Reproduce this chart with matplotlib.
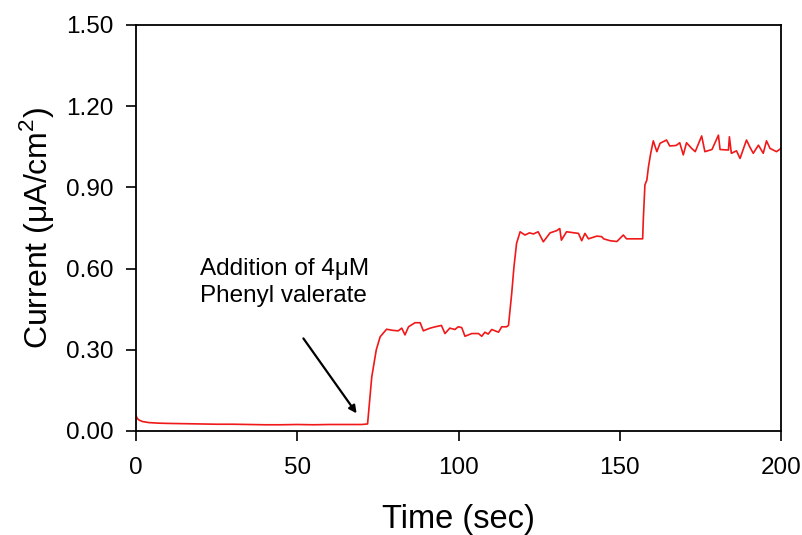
import matplotlib
matplotlib.use('Agg')
from matplotlib import pyplot as plt

plt.rcParams['font.family'] = ['Liberation Sans', 'DejaVu Sans']
plt.rcParams['mathtext.fontset'] = 'custom'
plt.rcParams['mathtext.rm'] = 'Liberation Sans'

# amperometric response
time = [0, 0.5, 1, 2, 4, 7, 10, 15, 20, 25, 30, 35, 40, 45, 50, 55, 60, 65, 70, 71.8,
        73.1, 74.5, 75.7, 77.7, 79.5, 81.3, 82.4, 83.4, 84.5, 86.5, 88.1, 89.1, 90.1, 91.2,
        92.8, 94.7, 95.8, 97.3, 98.9, 99.9, 101, 102.0, 104.1, 106.2, 107.2, 108.2, 109.2,
        110.3, 112.4, 113.4, 114.9, 115.5, 116.5, 117.2, 118.0, 119.1, 120.6, 122, 123.2,
        124.7, 126.3, 128.4, 130.4, 131.4, 131.9, 133.5, 137.2, 138.2, 139.2, 140.3, 142.9,
        144.4, 145.0, 147.0, 149.1, 151.1, 152.1, 157.1, 157.3, 157.8, 158.4, 158.9, 159.6,
        160.4, 161.5, 162.5, 164.5, 165.5, 167.5, 168.6, 169.7, 170.7, 172.3, 173.4, 175.4,
        176.4, 178.6, 180.6, 181.1, 183.7, 184.0, 184.6, 186.2, 187.3, 189.3, 190.3, 191.4,
        193.0, 194.5, 195.5, 196.6, 198.6, 200]
current = [0.055, 0.045, 0.04, 0.035, 0.031, 0.029, 0.028, 0.027, 0.026, 0.025, 0.025,
           0.024, 0.023, 0.023, 0.024, 0.023, 0.024, 0.024, 0.024, 0.026,
           0.20, 0.30, 0.348, 0.376, 0.372, 0.37, 0.38, 0.355, 0.385, 0.40, 0.40, 0.37,
           0.375, 0.38, 0.385, 0.39, 0.36, 0.38, 0.375, 0.385, 0.382, 0.35, 0.36, 0.36,
           0.35, 0.365, 0.358, 0.375, 0.365, 0.385, 0.385, 0.39, 0.509, 0.607, 0.693,
           0.736, 0.724, 0.732, 0.728, 0.736, 0.699, 0.732, 0.74, 0.748, 0.705, 0.736,
           0.73, 0.703, 0.73, 0.71, 0.72, 0.718, 0.71, 0.703, 0.70, 0.724, 0.71, 0.71,
           0.78, 0.909, 0.927, 0.976, 1.026, 1.072, 1.032, 1.063, 1.075, 1.053, 1.055,
           1.065, 1.02, 1.065, 1.044, 1.032, 1.09, 1.032, 1.04, 1.093, 1.04, 1.038, 1.087,
           1.026, 1.035, 1.007, 1.075, 1.05, 1.026, 1.056, 1.026, 1.072, 1.044, 1.032, 1.044]

yticks = [0.00, 0.30, 0.60, 0.90, 1.20, 1.50]
xticks = [0, 50, 100, 150, 200]

fig = plt.figure(figsize=(8.03, 5.35), dpi=100)
ax = fig.add_axes([0.1694, 0.1944, 0.8032, 0.7589])
ax.plot(time, current, color='#f01818', lw=1.2)

ax.set_xlim(0, 200)
ax.set_ylim(0, 1.5)
ax.set_xticks(xticks)
ax.set_yticks(yticks)
ax.set_yticklabels([f'{v:.2f}' for v in yticks])
ax.tick_params(direction='out', length=7, width=1.2, labelsize=17.5)
ax.tick_params(axis='y', pad=9)
ax.tick_params(axis='x', pad=12)
for s in ax.spines.values():
    s.set_linewidth(1.3)

ax.set_xlabel('Time (sec)', fontsize=23.5, labelpad=18)
ax.set_ylabel('Current (μA/cm$^{2}$)', fontsize=23, labelpad=7)

# note + arrow pointing at the injection
ax.text(19.8, 0.55, 'Addition of 4μM\nPhenyl valerate', fontsize=17.5,
        ha='left', va='center', linespacing=1.3)
ax.annotate('', xy=(68.4, 0.065), xytext=(51.9, 0.342),
            arrowprops=dict(arrowstyle='-|>', color='black', lw=1.6, mutation_scale=11,
                            shrinkA=0, shrinkB=0))

fig.savefig('out.png', dpi=100)
